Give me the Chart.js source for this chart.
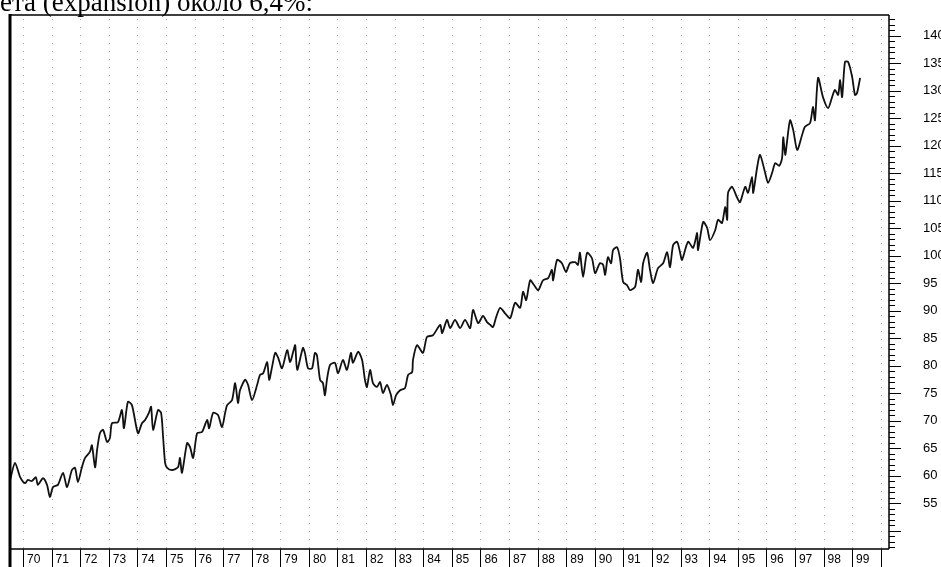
<!DOCTYPE html>
<html>
<head>
<meta charset="utf-8">
<script src="https://cdn.jsdelivr.net/npm/chart.js@4.4.1/dist/chart.umd.min.js"></script>
<style>
  html, body { margin: 0; padding: 0; background: #fff; }
  #wrap { position: relative; width: 941px; height: 567px; overflow: hidden; }
  #caption {
    position: absolute; left: 0; top: -11px;
    font-family: 'Liberation Serif', 'DejaVu Serif', serif;
    font-size: 27px; line-height: 27px; white-space: nowrap; color: #000;
  }
  canvas { position: absolute; left: 0; top: 0; }
</style>
</head>
<body>
<div id="wrap">
  <canvas id="chart" width="941" height="567"></canvas>
  <div id="caption">ета (expansion) около 6,4%:</div>
</div>
<script>
// index values (decimal year, level)
const dates = [
  1969.55, 1969.72, 1969.90, 1970.07, 1970.17, 1970.31, 1970.45, 1970.52, 1970.70, 1970.84,
  1970.94, 1971.05, 1971.22, 1971.40, 1971.54, 1971.71, 1971.82, 1971.92, 1972.06, 1972.17,
  1972.34, 1972.41, 1972.52, 1972.59, 1972.69, 1972.80, 1972.94, 1973.04, 1973.11, 1973.32,
  1973.46, 1973.53, 1973.67, 1973.81, 1974.02, 1974.16, 1974.27, 1974.41, 1974.48, 1974.55,
  1974.72, 1974.83, 1974.90, 1974.97, 1975.04, 1975.21, 1975.42, 1975.49, 1975.56, 1975.74,
  1975.84, 1975.95, 1976.09, 1976.26, 1976.44, 1976.51, 1976.65, 1976.82, 1976.96, 1977.07,
  1977.14, 1977.31, 1977.42, 1977.52, 1977.59, 1977.77, 1977.87, 1978.01, 1978.19, 1978.29,
  1978.40, 1978.54, 1978.61, 1978.71, 1978.82, 1978.92, 1979.06, 1979.24, 1979.34, 1979.45,
  1979.52, 1979.59, 1979.79, 1979.86, 1979.97, 1980.11, 1980.21, 1980.28, 1980.39, 1980.49,
  1980.56, 1980.63, 1980.74, 1980.91, 1981.02, 1981.19, 1981.33, 1981.47, 1981.54, 1981.72,
  1981.86, 1981.96, 1982.03, 1982.14, 1982.24, 1982.38, 1982.49, 1982.59, 1982.73, 1982.87,
  1982.94, 1983.05, 1983.19, 1983.36, 1983.47, 1983.61, 1983.64, 1983.78, 1983.99, 1984.13,
  1984.34, 1984.59, 1984.66, 1984.83, 1984.94, 1985.11, 1985.29, 1985.46, 1985.64, 1985.74,
  1985.92, 1986.09, 1986.23, 1986.34, 1986.44, 1986.55, 1986.69, 1986.86, 1987.04, 1987.21,
  1987.39, 1987.49, 1987.60, 1987.74, 1987.88, 1988.02, 1988.19, 1988.37, 1988.50, 1988.54,
  1988.68, 1988.85, 1988.99, 1989.13, 1989.31, 1989.41, 1989.48, 1989.59, 1989.73, 1989.90,
  1990.01, 1990.18, 1990.29, 1990.36, 1990.46, 1990.57, 1990.64, 1990.78, 1990.88, 1990.99,
  1991.13, 1991.23, 1991.41, 1991.51, 1991.62, 1991.69, 1991.83, 1991.93, 1992.04, 1992.21,
  1992.39, 1992.53, 1992.63, 1992.74, 1992.88, 1992.98, 1993.05, 1993.26, 1993.44, 1993.58,
  1993.61, 1993.79, 1993.93, 1994.03, 1994.21, 1994.31, 1994.45, 1994.56, 1994.63, 1994.66,
  1994.80, 1994.98, 1995.08, 1995.26, 1995.36, 1995.50, 1995.54, 1995.68, 1995.78, 1995.96,
  1996.06, 1996.20, 1996.31, 1996.45, 1996.55, 1996.59, 1996.66, 1996.73, 1996.83, 1996.94,
  1997.08, 1997.25, 1997.35, 1997.53, 1997.63, 1997.70, 1997.81, 1997.98, 1998.16, 1998.30,
  1998.40, 1998.51, 1998.58, 1998.65, 1998.75, 1998.86, 1999.00, 1999.10, 1999.17, 1999.28
];
const values = [
  59.2, 62.3, 59.7, 58.6, 59.2, 59.0, 59.7, 58.3, 59.5, 58.3,
  56.1, 57.9, 58.3, 60.5, 57.9, 61.0, 61.4, 58.8, 61.5, 63.2,
  64.3, 65.5, 61.5, 64.6, 67.7, 68.3, 66.1, 66.8, 69.5, 69.7,
  71.9, 68.6, 73.4, 72.8, 67.7, 69.5, 70.1, 71.5, 72.5, 68.3,
  71.9, 71.4, 67.0, 62.3, 61.4, 61.0, 61.5, 63.2, 60.5, 65.9,
  65.2, 63.2, 67.7, 67.9, 70.1, 68.6, 71.4, 71.0, 68.8, 71.4,
  72.8, 73.7, 76.8, 73.2, 75.5, 77.4, 76.5, 73.7, 76.5, 78.3,
  78.6, 80.6, 77.4, 79.7, 82.3, 81.5, 79.5, 82.8, 80.6, 82.5,
  83.7, 79.2, 83.2, 82.3, 79.5, 79.5, 82.3, 81.9, 77.4, 76.8,
  74.6, 77.4, 80.1, 80.5, 78.6, 81.0, 79.2, 82.3, 80.5, 82.5,
  81.0, 77.4, 76.1, 79.2, 76.8, 76.1, 77.0, 75.0, 76.5, 74.6,
  72.8, 74.6, 75.5, 75.9, 78.3, 78.8, 81.0, 83.7, 82.3, 85.2,
  85.5, 87.4, 85.9, 88.3, 86.8, 88.3, 86.8, 88.3, 86.8, 90.1,
  87.7, 89.0, 87.9, 87.4, 87.0, 88.8, 90.5, 89.5, 88.6, 91.4,
  90.5, 93.4, 91.9, 95.5, 94.6, 93.7, 95.5, 95.9, 97.4, 95.5,
  99.2, 98.6, 97.0, 98.6, 98.8, 98.3, 100.5, 96.1, 100.5, 99.5,
  96.8, 98.6, 98.3, 96.5, 99.7, 98.6, 101.0, 101.5, 99.5, 95.2,
  94.6, 93.7, 94.3, 97.4, 95.2, 98.6, 100.5, 97.4, 95.0, 97.7,
  98.6, 100.6, 97.9, 101.9, 102.5, 100.6, 99.2, 102.5, 101.4, 104.1,
  101.0, 106.1, 105.0, 102.8, 104.6, 106.5, 105.9, 108.8, 106.5, 111.4,
  112.5, 110.5, 109.7, 112.5, 111.4, 114.3, 111.4, 116.1, 118.3, 115.0,
  113.2, 115.0, 116.8, 116.3, 117.7, 121.5, 118.3, 121.0, 124.6, 122.8,
  119.2, 121.9, 123.4, 124.1, 127.0, 124.6, 132.3, 128.8, 126.8, 128.8,
  130.1, 129.2, 131.9, 128.8, 135.2, 135.2, 132.5, 129.2, 129.5, 132.3
];

// axis labels
const yearTicks = [];
for (let y = 1970; y <= 1999; y++) yearTicks.push(y);
const yTickLabels = [55, 60, 65, 70, 75, 80, 85, 90, 95, 100, 105, 110, 115, 120, 125, 130, 135, 140];

const xMin = 1969.545, xMax = 2000.29;
const yMin = 46.64, yMax = 143.73;

const points = dates.map((d, i) => ({ x: d, y: values[i] }));

// frame, dotted year lines, year boxes and the ruler ticks on the right axis
const framePlugin = {
    id: 'frame',
    beforeDatasetsDraw(chart) {
        const { ctx, chartArea: a, scales: { x } } = chart;
        ctx.save();
        ctx.strokeStyle = '#a8a8a8';
        ctx.lineWidth = 1;
        ctx.setLineDash([1, 7]);
        for (let yr = 1970; yr <= 2000; yr++) {
            const px = Math.round(x.getPixelForValue(yr)) + 0.5;
            ctx.beginPath();
            ctx.moveTo(px, a.top + 4);
            ctx.lineTo(px, a.bottom);
            ctx.stroke();
        }
        ctx.restore();
    },
    afterDraw(chart) {
        const { ctx, chartArea: a, scales: { x, y } } = chart;
        ctx.save();
        ctx.strokeStyle = '#000';
        // year boxes
        ctx.lineWidth = 1;
        for (let yr = 1970; yr <= 2000; yr++) {
            const px = Math.round(x.getPixelForValue(yr)) + 0.5;
            ctx.beginPath();
            ctx.moveTo(px, a.bottom);
            ctx.lineTo(px, chart.height);
            ctx.stroke();
        }
        // ruler ticks
        for (let v = Math.ceil(yMin); v <= Math.floor(yMax); v++) {
            const py = Math.round(y.getPixelForValue(v)) + 0.5;
            const len = v % 5 === 0 ? 12 : 6;
            ctx.beginPath();
            ctx.moveTo(a.right, py);
            ctx.lineTo(a.right + len, py);
            ctx.stroke();
        }
        // frame
        ctx.lineWidth = 1.5;
        ctx.beginPath();
        ctx.moveTo(a.left, a.top);
        ctx.lineTo(a.right, a.top);
        ctx.moveTo(a.right, a.top);
        ctx.lineTo(a.right, a.bottom);
        ctx.moveTo(a.left, a.bottom);
        ctx.lineTo(a.right, a.bottom);
        ctx.stroke();
        ctx.lineWidth = 3;
        ctx.beginPath();
        ctx.moveTo(a.left, a.top - 1);
        ctx.lineTo(a.left, chart.height);
        ctx.stroke();
        ctx.restore();
    }
};

const ctx = document.getElementById('chart').getContext('2d');
new Chart(ctx, {
    type: 'line',
    data: {
        datasets: [{
            data: points,
            borderColor: '#111',
            borderWidth: 1.8,
            pointRadius: 0,
            tension: 0.25,
            fill: false,
        }],
    },
    options: {
        responsive: false,
        animation: false,
        devicePixelRatio: 1,
        layout: { padding: { left: 10, top: 15, right: 0, bottom: 0 } },
        plugins: { legend: { display: false }, tooltip: { enabled: false } },
        scales: {
            x: {
                type: 'linear',
                min: xMin,
                max: xMax,
                grid: { display: false, drawTicks: false },
                border: { display: false },
                afterBuildTicks: (s) => { s.ticks = yearTicks.map((v) => ({ value: v })); },
                afterFit: (s) => { s.height = 18; },
                ticks: {
                    autoSkip: false,
                    maxRotation: 0,
                    align: 'start',
                    labelOffset: 4,
                    padding: 3,
                    color: '#000',
                    font: { family: 'Liberation Sans', size: 12 },
                    callback: (v) => String(v).slice(2),
                },
            },
            y: {
                type: 'linear',
                position: 'right',
                min: yMin,
                max: yMax,
                // invisible tick marks only push the labels out; the ruler is drawn by the plugin
                grid: {
                    display: true,
                    drawOnChartArea: false,
                    drawTicks: true,
                    tickLength: 32,
                    color: 'rgba(0,0,0,0)',
                    tickColor: 'rgba(0,0,0,0)',
                },
                border: { display: false },
                afterBuildTicks: (s) => { s.ticks = yTickLabels.map((v) => ({ value: v })); },
                afterFit: (s) => { s.width = 52; },
                ticks: {
                    padding: 2,
                    color: '#000',
                    font: { family: 'Liberation Sans', size: 13 },
                    callback: (v) => String(v),
                },
            },
        },
    },
    plugins: [framePlugin],
});
</script>
</body>
</html>
